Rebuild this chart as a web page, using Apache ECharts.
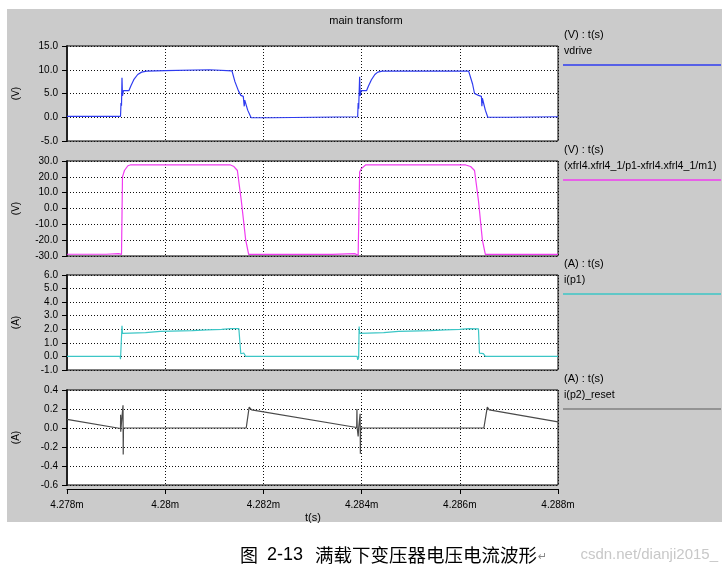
<!DOCTYPE html>
<html><head><meta charset="utf-8">
<script src="https://cdn.jsdelivr.net/npm/echarts@6/dist/echarts.min.js"></script>
<style>html,body{margin:0;padding:0;background:#fff}#c{width:722px;height:570px}</style>
</head><body><div id="c"></div><script>
// time in microseconds (labels shown as ms with "m" suffix)
const timeRange = [4278, 4288];
const timeStep = 2;

const vdrive = [
  [4278.00,0.2],[4279.09,0.2],[4279.10,3.0],[4279.11,2.4],[4279.12,8.3],[4279.13,4.5],[4279.15,5.6],
  [4279.26,5.6],[4279.30,6.6],[4279.36,7.9],[4279.44,9.0],[4279.52,9.5],[4279.62,9.7],[4280.00,9.8],
  [4280.02,10.0],[4280.90,10.0],[4280.92,9.75],[4281.36,9.75],[4281.42,7.5],[4281.49,5.6],[4281.54,4.6],
  [4281.59,4.4],[4281.61,2.3],[4281.62,3.6],[4281.68,1.5],[4281.75,-0.1],[4282.16,-0.1],[4282.17,0.1],
  [4283.92,0.1],[4283.93,3.0],[4283.94,1.8],[4283.96,8.5],[4283.97,4.5],[4283.99,5.6],[4284.10,5.6],
  [4284.14,6.6],[4284.20,7.9],[4284.27,9.0],[4284.33,9.5],[4284.42,9.7],[4286.18,9.7],[4286.26,7.0],
  [4286.30,5.0],[4286.38,4.6],[4286.44,4.4],[4286.45,2.3],[4286.46,4.0],[4286.52,1.5],[4286.57,0.0],
  [4287.00,0.0],[4287.02,0.1],[4288.00,0.1]
];
const vxfrm = [
  [4278.00,-28.9],[4278.80,-28.9],[4278.82,-28.5],[4279.05,-28.5],[4279.08,-29.0],[4279.11,-29.0],
  [4279.13,20.0],[4279.17,24.0],[4279.24,27.0],[4279.30,27.6],[4281.32,27.6],[4281.40,26.5],
  [4281.47,24.0],[4281.55,5.0],[4281.64,-20.0],[4281.70,-29.0],[4283.40,-29.0],[4283.42,-28.5],
  [4283.86,-28.5],[4283.90,-29.5],[4283.93,-29.5],[4283.96,23.0],[4283.99,25.0],[4284.08,27.5],
  [4286.12,27.5],[4286.15,28.0],[4286.22,26.5],[4286.30,24.0],[4286.38,5.0],[4286.46,-20.0],
  [4286.52,-29.0],[4288.00,-29.0]
];
const ip1 = [
  [4278.00,0.0],[4279.08,0.0],[4279.09,-0.2],[4279.10,-0.1],[4279.12,2.25],[4279.13,1.7],[4279.16,1.7],
  [4279.60,1.75],[4279.90,1.85],[4280.55,1.9],[4280.85,1.95],[4281.15,2.0],[4281.34,2.05],[4281.35,2.12],
  [4281.37,2.02],[4281.50,2.05],[4281.52,2.0],[4281.54,0.2],[4281.60,0.25],[4281.64,0.0],[4283.91,0.0],
  [4283.92,-0.25],[4283.94,-0.1],[4283.95,2.2],[4283.96,1.7],[4284.45,1.75],[4284.75,1.85],[4285.40,1.9],
  [4285.70,1.95],[4286.00,2.0],[4286.18,2.05],[4286.20,2.1],[4286.22,2.03],[4286.38,2.03],[4286.40,0.25],
  [4286.48,0.2],[4286.52,0.0],[4288.00,0.0]
];
const ip2reset = [
  [4278.00,0.09],[4279.09,-0.005],[4279.092,0.14],[4279.094,-0.04],[4279.10,0.0],[4279.14,0.0],
  [4279.141,0.24],[4279.145,-0.28],[4279.15,0.0],[4281.65,0.0],[4281.71,0.22],[4281.74,0.20],
  [4281.76,0.19],[4283.90,0.005],[4283.905,0.20],[4283.91,0.0],[4283.93,-0.09],[4283.94,0.0],
  [4283.97,0.15],[4283.975,-0.27],[4283.98,0.0],[4286.49,0.0],[4286.56,0.22],[4286.60,0.19],
  [4288.00,0.065]
];

const yMins = [-5, -30, -1, -0.6];
const yMaxs = [15, 30, 6, 0.4];
const yIntervals = [5, 10, 1, 0.2];
const yUnits = ['(V)', '(V)', '(A)', '(A)'];
const headers = ['(V) : t(s)', '(V) : t(s)', '(A) : t(s)', '(A) : t(s)'];
const names = ['vdrive', '(xfrl4.xfrl4_1/p1-xfrl4.xfrl4_1/m1)', 'i(p1)', 'i(p2)_reset'];
const seriesData = [vdrive, vxfrm, ip1, ip2reset];
const title = 'main transform';
const xName = 't(s)';
const caption = ['图', '2-13', '满载下变压器电压电流波形'];
const watermark = 'csdn.net/dianji2015_';

// layout
const colors = ['#2f3cf0', '#f03cf0', '#3cc6c6', '#4a4a4a'];
const legendColors = ['#2f3cf0', '#f03cf0', '#3cc6c6', '#808080'];
const tops = [46, 161, 275, 390];
const H = 95, L = 67, R = 558;
const FONT = 'Liberation Sans, Arial, sans-serif';

const grids = [], xAxes = [], yAxes = [], series = [], graphics = [];
graphics.push({type:'rect', z:-100, silent:true, shape:{x:7,y:9,width:715,height:513}, style:{fill:'#cbcbcb'}});
graphics.push({type:'text', x:366, y:21, style:{text:title, font:'11px '+FONT, fill:'#000', align:'center', verticalAlign:'middle'}});
graphics.push({type:'text', x:313, y:518, style:{text:xName, font:'11px '+FONT, fill:'#000', align:'center', verticalAlign:'middle'}});

for (let i = 0; i < 4; i++) {
  const last = i === 3;
  grids.push({left:L, top:tops[i], width:R-L, height:H, show:true, backgroundColor:'#fff', borderColor:'#000', borderWidth:1, containLabel:false});
  xAxes.push({
    type:'value', gridIndex:i, min:timeRange[0], max:timeRange[1], interval:timeStep,
    position:'bottom', offset: last ? 4 : 0,
    axisLine:{show:last, onZero:false, lineStyle:{color:'#000', width:1}},
    axisTick:{show:last, length:5, lineStyle:{color:'#000'}},
    axisLabel:{show:last, fontSize:10, fontFamily:FONT, color:'#000', margin:11,
      formatter: v => (v/1000).toFixed(3).replace(/0+$/,'') + 'm'},
    splitLine:{show:true, lineStyle:{color:'#111', type:[1,2], width:1}}
  });
  yAxes.push({
    type:'value', gridIndex:i, min:yMins[i], max:yMaxs[i], interval:yIntervals[i],
    name:yUnits[i], nameLocation:'middle', nameGap:46, nameRotate:90,
    nameTextStyle:{fontSize:10, fontFamily:FONT, color:'#000'},
    axisLine:{show:true, onZero:false, lineStyle:{color:'#222', width:2}},
    axisTick:{show:true, length:5, lineStyle:{color:'#000'}},
    axisLabel:{fontSize:10, fontFamily:FONT, color:'#000', margin:9, formatter: v => v.toFixed(1)},
    splitLine:{show:true, lineStyle:{color:'#111', type:[1,2], width:1}}
  });
  series.push({
    type:'line', xAxisIndex:i, yAxisIndex:i, data:seriesData[i], showSymbol:false, symbol:'none',
    lineStyle:{color:colors[i], width:1.2}, itemStyle:{color:colors[i]}, animation:false, clip:true
  });
  graphics.push({type:'text', x:564, y:tops[i]-11, style:{text:headers[i], font:'11px '+FONT, fill:'#000', verticalAlign:'middle'}});
  graphics.push({type:'text', x:564, y:tops[i]+5, style:{text:names[i], font:'10.6px '+FONT, fill:'#000', verticalAlign:'middle'}});
  graphics.push({type:'line', shape:{x1:563, y1:tops[i]+19, x2:721, y2:tops[i]+19}, style:{stroke:legendColors[i], lineWidth:1.5}});
}

graphics.push({type:'text', x:718, y:555, style:{text:watermark, font:'15px '+FONT, fill:'#c8c8c8', align:'right', verticalAlign:'middle'}});
graphics.push({type:'text', x:240, y:555, style:{text:caption[0], font:'18px "Noto Sans CJK SC"', fill:'#000', verticalAlign:'middle'}});
graphics.push({type:'text', x:267, y:555, style:{text:caption[1], font:'18px "Liberation Sans Narrow", "Liberation Sans"', fill:'#000', verticalAlign:'middle'}});
graphics.push({type:'text', x:315, y:555, style:{text:caption[2], font:'18.5px "Noto Sans CJK SC"', fill:'#000', verticalAlign:'middle'}});
graphics.push({type:'text', x:538, y:557, style:{text:'↵', font:'11px "DejaVu Sans"', fill:'#888', verticalAlign:'middle'}});

const chart = echarts.init(document.getElementById('c'), null, {renderer:'canvas'});
chart.setOption({animation:false, backgroundColor:'#fff', grid:grids, xAxis:xAxes, yAxis:yAxes, series:series, graphic:graphics});
</script></body></html>
